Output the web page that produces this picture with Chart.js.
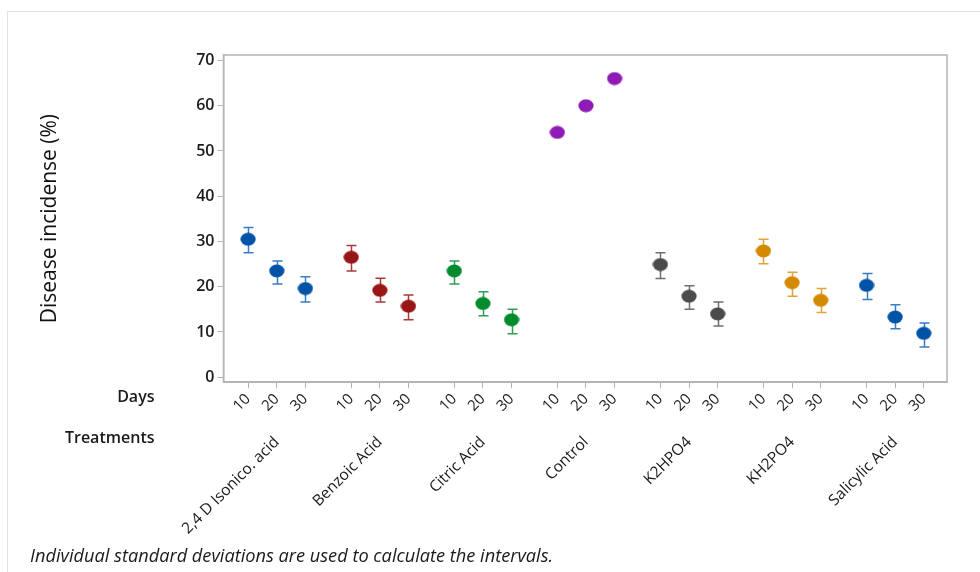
<!DOCTYPE html>
<html>
<head>
<meta charset="utf-8">
<script src="https://cdn.jsdelivr.net/npm/chart.js@4.4.1/dist/chart.umd.min.js"></script>
<style>
  html, body { margin: 0; padding: 0; background: #fff; }
  #wrap { position: relative; width: 980px; height: 572px; overflow: hidden; }
  #frame { position: absolute; left: 7px; top: 11px; right: -2px; bottom: -2px;
           border-top: 1px solid #e2e2e2; border-left: 1px solid #e2e2e2; }
  #chart { position: absolute; left: 0; top: 0; }
  #note { position: absolute; left: 30px; top: 543px; font: italic 18.2px "Open Sans", "Noto Sans", sans-serif;
          color: #1a1a1a; white-space: nowrap; }
</style>
</head>
<body>
<div id="wrap">
  <div id="frame"></div>
  <canvas id="chart" width="980" height="572"></canvas>
  <div id="note">Individual standard deviations are used to calculate the intervals.</div>
</div>
<script>
// Interval plot: disease incidence by treatment and day
const treatments = ['2,4 D Isonico. acid', 'Benzoic Acid', 'Citric Acid', 'Control', 'K2HPO4', 'KH2PO4', 'Salicylic Acid'];
const days = ['10', '20', '30'];
const yTicks = [0, 10, 20, 30, 40, 50, 60, 70];

// mean disease incidence (%) at 10, 20, 30 days
const isonicoMean   = [30.5, 23.5, 19.6];
const benzoicMean   = [26.5, 19.2, 15.7];
const citricMean    = [23.5, 16.3, 12.7];
const controlMean   = [54.1, 60.0, 66.0];
const k2hpo4Mean    = [24.9, 17.9, 14.0];
const kh2po4Mean    = [27.9, 20.9, 17.0];
const salicylicMean = [20.3, 13.3, 9.7];

// interval bounds (lower / upper)
const isonicoLow   = [27.5, 20.6, 16.6], isonicoHigh   = [33.1, 25.7, 22.2];
const benzoicLow   = [23.5, 16.6, 12.7], benzoicHigh   = [29.1, 21.9, 18.2];
const citricLow    = [20.6, 13.6, 9.6],  citricHigh    = [25.7, 18.9, 15.0];
const controlLow   = [null, null, null], controlHigh   = [null, null, null];
const k2hpo4Low    = [21.8, 15.0, 11.3], k2hpo4High    = [27.5, 20.2, 16.6];
const kh2po4Low    = [25.1, 17.9, 14.3], kh2po4High    = [30.5, 23.2, 19.6];
const salicylicLow = [17.2, 10.7, 6.7],  salicylicHigh = [22.9, 16.0, 12.0];

const means = [isonicoMean, benzoicMean, citricMean, controlMean, k2hpo4Mean, kh2po4Mean, salicylicMean];
const lows  = [isonicoLow, benzoicLow, citricLow, controlLow, k2hpo4Low, kh2po4Low, salicylicLow];
const highs = [isonicoHigh, benzoicHigh, citricHigh, controlHigh, k2hpo4High, kh2po4High, salicylicHigh];

const markerColors = ['#0053a6', '#991616', '#008b2d', '#8f1ab5', '#4b4b4b', '#d48a00', '#0053a6'];
const barColors    = ['#3a7cc3', '#a83a3a', '#2f9e52', '#a54cc6', '#6e6e6e', '#e0a43a', '#3a7cc3'];

// horizontal layout: groups are separated by a wider gap than the days inside a group
const GROUP_STEP = 3.6;
const xPos = (g, d) => g * GROUP_STEP + d;
const dayPositions = [];
treatments.forEach((t, g) => days.forEach((d, i) => dayPositions.push(xPos(g, i))));
const groupCenters = treatments.map((t, g) => xPos(g, 1));
const X_MIN = -0.86, X_MAX = xPos(6, 2) + 0.81;

const FONT = '"Open Sans", "Noto Sans", sans-serif';

function ellipseMarker(color) {
  const c = document.createElement('canvas');
  c.width = 16; c.height = 14;
  const g = c.getContext('2d');
  g.fillStyle = color;
  g.beginPath();
  g.ellipse(8, 7, 7.6, 6.5, 0, 0, Math.PI * 2);
  g.fill();
  return c;
}

const datasets = treatments.map((t, g) => ({
  label: t,
  data: means[g].map((v, i) => ({ x: xPos(g, i), y: v, lo: lows[g][i], hi: highs[g][i] })),
  pointStyle: ellipseMarker(markerColors[g]),
  backgroundColor: markerColors[g],
  borderColor: markerColors[g],
  pointRadius: 7,
  pointHoverRadius: 7,
  showLine: false,
  xAxisID: 'x',
  barColor: barColors[g]
}));

// interval whiskers with caps, drawn under the markers
const intervalPlugin = {
  id: 'intervals',
  beforeDatasetsDraw(chart) {
    const { ctx } = chart;
    const xs = chart.scales.x, ys = chart.scales.y;
    ctx.save();
    ctx.lineWidth = 1.5;
    chart.data.datasets.forEach(ds => {
      ctx.strokeStyle = ds.barColor;
      ds.data.forEach(p => {
        if (p.lo == null || p.hi == null) return;
        const px = Math.round(xs.getPixelForValue(p.x)) + 0.5;
        const yl = ys.getPixelForValue(p.lo), yh = ys.getPixelForValue(p.hi);
        ctx.beginPath();
        ctx.moveTo(px, yl); ctx.lineTo(px, yh);
        ctx.moveTo(px - 5, yh); ctx.lineTo(px + 5, yh);
        ctx.moveTo(px - 5, yl); ctx.lineTo(px + 5, yl);
        ctx.stroke();
      });
    });
    ctx.restore();
  },
  afterDraw(chart) {
    const { ctx, chartArea } = chart;
    ctx.save();
    // plot frame
    ctx.strokeStyle = '#b4b4b4';
    ctx.lineWidth = 1.5;
    ctx.strokeRect(chartArea.left, chartArea.top, chartArea.right - chartArea.left, chartArea.bottom - chartArea.top);
    // row headers for the two category levels
    ctx.fillStyle = '#1a1a1a';
    ctx.font = '600 16px ' + FONT;
    ctx.textAlign = 'right';
    ctx.textBaseline = 'middle';
    const hx = chartArea.left - 69;
    ctx.fillText('Days', hx, chartArea.bottom + 15);
    ctx.fillText('Treatments', hx, chartArea.bottom + 56);
    ctx.restore();
  }
};

new Chart(document.getElementById('chart'), {
  type: 'scatter',
  data: { datasets },
  plugins: [intervalPlugin],
  options: {
    responsive: false,
    animation: false,
    events: [],
    layout: { padding: { left: 37, top: 55, right: 33, bottom: 18 } },
    plugins: { legend: { display: false }, tooltip: { enabled: false } },
    scales: {
      y: {
        type: 'linear',
        min: -1.1,
        max: 71.2,
        afterBuildTicks: s => { s.ticks = yTicks.map(v => ({ value: v })); },
        ticks: {
          color: '#1a1a1a',
          font: { family: FONT, size: 16, weight: '600' },
          padding: 3
        },
        grid: { drawOnChartArea: false, drawTicks: true, tickLength: 6, color: '#b4b4b4', lineWidth: 1 },
        border: { color: '#b4b4b4', width: 1.5 },
        title: {
          display: true,
          text: 'Disease incidense (%)',
          color: '#111',
          font: { family: FONT, size: 21 },
          padding: { top: 0, bottom: 131 }
        }
      },
      x: {
        type: 'linear',
        position: 'bottom',
        min: X_MIN,
        max: X_MAX,
        afterBuildTicks: s => { s.ticks = dayPositions.map(v => ({ value: v })); },
        ticks: {
          autoSkip: false,
          minRotation: 45,
          maxRotation: 45,
          padding: 2,
          color: '#1a1a1a',
          font: { family: FONT, size: 15, weight: '500' },
          callback: (v, i) => days[i % days.length]
        },
        grid: { drawOnChartArea: false, drawTicks: true, tickLength: 6, color: '#b4b4b4', lineWidth: 1 },
        border: { color: '#b4b4b4', width: 1.5 }
      },
      x2: {
        type: 'linear',
        position: 'bottom',
        min: X_MIN,
        max: X_MAX,
        afterBuildTicks: s => { s.ticks = groupCenters.map(v => ({ value: v })); },
        ticks: {
          autoSkip: false,
          minRotation: 45,
          maxRotation: 45,
          padding: 16,
          color: '#1a1a1a',
          font: { family: FONT, size: 15.5, weight: '500' },
          callback: (v, i) => treatments[i]
        },
        grid: { display: false, drawTicks: false },
        border: { display: false }
      }
    }
  }
});
</script>
</body>
</html>
